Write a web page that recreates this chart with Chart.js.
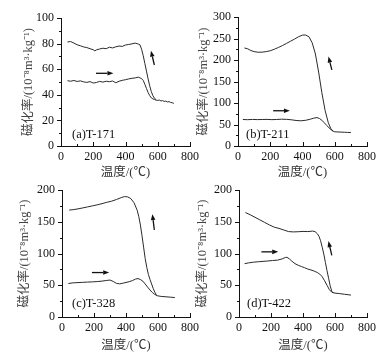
<!DOCTYPE html>
<html>
<head>
<meta charset="utf-8">
<script src="https://cdn.jsdelivr.net/npm/chart.js@4"></script>
<style>
html, body { margin: 0; padding: 0; background: #fff; }
#wrap { position: relative; width: 392px; height: 363px; overflow: hidden; }
.panel { position: absolute; }
</style>
</head>
<body>
<div id="wrap">
  <div class="panel" style="left:0;top:0"><canvas id="chartA" width="200" height="182"></canvas></div>
  <div class="panel" style="left:180px;top:0"><canvas id="chartB" width="212" height="182"></canvas></div>
  <div class="panel" style="left:0;top:175px"><canvas id="chartC" width="200" height="188"></canvas></div>
  <div class="panel" style="left:180px;top:175px"><canvas id="chartD" width="212" height="188"></canvas></div>
</div>
<script>
// (a) T-171
const tempA_heat = [40,60,80,100,120,140,160,180,200,220,240,260,280,300,320,340,360,380,400,420,440,460,480,500,
                    510,520,530,540,550,560,570,580,590,600,610,620,630,640,650,660,670,680,690,700];
const chiA_heat  = [51.0,50.6,51.2,50.4,50.9,50.1,49.7,50.3,49.2,49.6,50.5,49.9,50.6,50.2,50.8,49.4,50.6,51.3,51.8,52.4,52.9,53.2,53.8,52.6,
                    51.2,48.2,45.0,41.8,39.4,37.6,36.8,36.3,35.8,35.6,35.9,35.2,35.5,34.8,35.1,34.4,34.7,34.0,33.8,33.3];
const tempA_cool = [40,60,80,100,120,140,160,180,200,210,220,240,260,280,300,320,340,360,380,400,420,440,460,480,
                    490,500,510,520,530,540,550,560,570,580,590];
const chiA_cool  = [81.3,81.6,80.4,79.1,78.3,77.4,76.9,76.0,75.2,74.3,75.1,75.8,76.4,76.0,77.2,76.6,77.5,78.1,77.8,78.9,79.3,79.8,80.4,79.6,
                    79.0,75.5,70.5,64.5,58.5,52.5,47.0,42.5,39.3,37.2,36.2];

// (b) T-211
const tempB_heat = [30,60,90,120,150,180,210,240,270,300,330,360,390,420,450,470,490,505,520,535,550,565,580,590,600,620,640,660,680,700];
const chiB_heat  = [61.6,61.2,61.8,61.4,61.6,61.9,61.3,61.7,62.3,62.0,61.0,59.4,58.6,59.8,62.5,64.8,66.0,64.0,60.0,54.0,48.0,42.0,37.0,34.5,33.0,32.6,32.3,32.0,31.6,31.3];
const tempB_cool = [40,60,80,100,125,150,175,200,225,250,275,300,325,350,375,400,420,440,460,480,500,520,540,560,575,590];
const chiB_cool  = [228,226,222,219.5,218,218.3,219.5,221.5,225,229,233.5,238.5,243.5,248.5,254,258,258,254,240,214,172,124,83,54,41,34];

// (c) T-328
const tempC_heat = [40,70,100,130,160,190,220,250,280,300,320,340,360,380,400,420,440,460,475,490,505,520,535,550,565,580,595,620,650,680,705];
const chiC_heat  = [52.8,53.8,54.2,54.6,55.0,55.3,55.8,56.5,57.6,58.2,56.0,53.0,52.2,53.2,54.4,55.6,57.3,59.8,60.5,59.0,56.5,52.0,47.0,42.5,38.5,35.5,33.5,32.4,31.8,31.2,30.6];
const tempC_cool = [45,70,100,130,160,190,220,250,280,310,340,370,390,410,430,450,470,480,490,500,510,520,530,540,550,560,570,580,590];
const chiC_cool  = [168.4,169,170.3,171.8,173.4,175,176.6,178.5,180.6,182.4,185,188,189.6,189.2,186.5,180,168,158,145,128,110,92,78,67,59,52,45,39,35];

// (d) T-422
const tempD_heat = [35,60,90,120,150,180,210,240,270,290,300,315,330,350,370,390,410,430,450,470,490,505,520,535,550,565,580,600,630,660,700];
const chiD_heat  = [84,85.2,86.3,87,87.6,88.2,89,89.5,91.5,93.8,94,91.5,88,84,81.5,79.5,77.6,75.5,74,72.3,70,67.5,63.5,57,50,43,39,37.6,36.8,35.8,34.5];
const tempD_cool = [40,70,100,130,160,190,220,250,280,310,340,370,400,430,460,475,490,500,510,520,530,540,550,560,570,580,590];
const chiD_cool  = [164.5,161,157,153,149,145,141.5,139.5,137,134.5,134,134.3,134.8,134.5,135.3,134.5,131,127,120,110,99,86,73,61,49,40.5,37.5];

// y axis ranges / steps
const yMaxes = [100, 300, 200, 200];
const ySteps = [20, 50, 50, 50];
const sampleNames = ['(a)T-171', '(b)T-211', '(c)T-328', '(d)T-422'];

// heating / cooling direction arrows, in data units [temp, chi]
const arrowsA = [[[217, 56.8], [325, 56.8]], [[579, 63.3], [558, 74.5]]];
const arrowsB = [[[218, 82], [322, 82]], [[582, 177], [561, 208]]];
const arrowsC = [[[187, 70], [295, 70]], [[577, 137], [565, 162]]];
const arrowsD = [[[140, 102.6], [245, 102.6]], [[580, 97], [559, 119.5]]];

const SERIF = "'Liberation Serif', 'DejaVu Serif', serif";
const TITLE_FONT = "'Liberation Serif', 'Noto Sans CJK SC', serif";
const INK = '#111';
const LINE = '#2a2a2a';

function toPoints(xs, ys) {
    return xs.map((t, i) => ({ x: t, y: ys[i] }));
}

// small tick marks: y outward, x inward, with minor ticks between
const axisTicks = {
    id: 'axisTicks',
    afterDraw(chart) {
        const { ctx, chartArea } = chart;
        const x = chart.scales.x, y = chart.scales.y;
        const ys = chart.options.scales.y.ticks.stepSize;
        const xs = chart.options.scales.x.ticks.stepSize;
        ctx.save();
        ctx.strokeStyle = INK;
        ctx.lineWidth = 1;
        for (let k = 0; k * ys / 2 <= y.max + 1e-6; k++) {
            const py = Math.round(y.getPixelForValue(k * ys / 2)) + 0.5;
            const len = k % 2 === 0 ? 4 : 2;
            ctx.beginPath();
            ctx.moveTo(chartArea.left - len, py);
            ctx.lineTo(chartArea.left, py);
            ctx.stroke();
        }
        for (let k = 0; k * xs / 2 <= x.max + 1e-6; k++) {
            const px = Math.round(x.getPixelForValue(k * xs / 2)) + 0.5;
            const len = k % 2 === 0 ? 4 : 2;
            ctx.beginPath();
            ctx.moveTo(px, chartArea.bottom);
            ctx.lineTo(px, chartArea.bottom - len);
            ctx.stroke();
        }
        ctx.restore();
    }
};

// arrows and sample name inside the plot
function marks(arrows, name, labelDx, labelDy) {
    return {
        id: 'marks',
        afterDatasetsDraw(chart) {
            const { ctx, chartArea } = chart;
            const x = chart.scales.x, y = chart.scales.y;
            ctx.save();
            ctx.strokeStyle = INK;
            ctx.fillStyle = INK;
            ctx.lineWidth = 1.3;
            arrows.forEach(a => {
                const x0 = x.getPixelForValue(a[0][0]), y0 = y.getPixelForValue(a[0][1]);
                const x1 = x.getPixelForValue(a[1][0]), y1 = y.getPixelForValue(a[1][1]);
                const ang = Math.atan2(y1 - y0, x1 - x0);
                const hl = 6, hw = 2.3;
                const bx = x1 - hl * Math.cos(ang), by = y1 - hl * Math.sin(ang);
                ctx.beginPath();
                ctx.moveTo(x0, y0);
                ctx.lineTo(bx, by);
                ctx.stroke();
                ctx.beginPath();
                ctx.moveTo(x1, y1);
                ctx.lineTo(bx + hw * Math.sin(ang), by - hw * Math.cos(ang));
                ctx.lineTo(bx - hw * Math.sin(ang), by + hw * Math.cos(ang));
                ctx.closePath();
                ctx.fill();
            });
            ctx.font = '12.5px ' + SERIF;
            ctx.textAlign = 'left';
            ctx.textBaseline = 'middle';
            ctx.fillText(name, chartArea.left + labelDx, chartArea.bottom - labelDy);
            ctx.restore();
        }
    };
}

function createPanel(id, heatT, heatV, coolT, coolV, i, arrows, lay) {
    const ctx = document.getElementById(id).getContext('2d');
    const config = {
        type: 'line',
        data: {
            datasets: [
                { label: 'heating', data: toPoints(heatT, heatV) },
                { label: 'cooling', data: toPoints(coolT, coolV) }
            ]
        },
        options: {
            responsive: false,
            animation: false,
            parsing: false,
            elements: {
                line: { borderColor: LINE, borderWidth: 1, tension: 0, fill: false },
                point: { radius: 0 }
            },
            layout: { padding: { top: lay.padTop, right: lay.padRight, left: 0, bottom: 0 } },
            plugins: { legend: { display: false }, tooltip: { enabled: false } },
            scales: {
                x: {
                    type: 'linear',
                    min: 0, max: 800,
                    grid: { display: false, drawTicks: false, tickLength: 0 },
                    border: { display: true, color: INK, width: 1 },
                    ticks: { stepSize: 200, padding: lay.xTickPad, color: INK, font: { family: SERIF, size: 12 } },
                    title: {
                        display: true, text: '温度/(℃)', color: '#333',
                        font: { family: TITLE_FONT, size: 12.5 },
                        padding: { top: 0, bottom: lay.xTitlePad }
                    },
                    afterFit(scale) {
                        scale.height = lay.xHeight;
                        scale.paddingLeft = 0; scale.paddingRight = 0;
                    }
                },
                y: {
                    min: 0, max: yMaxes[i],
                    grid: { display: false, drawTicks: false, tickLength: 0 },
                    border: { display: true, color: INK, width: 1 },
                    ticks: { stepSize: ySteps[i], padding: 7, color: INK, font: { family: SERIF, size: 12 } },
                    title: {
                        display: true, text: '磁化率/(10⁻⁸m³·kg⁻¹)', color: '#444',
                        font: { family: TITLE_FONT, size: 12.5 },
                        padding: { top: lay.yTitlePad, bottom: 0 }
                    },
                    afterFit(scale) {
                        scale.width = lay.yWidth;
                        scale.paddingTop = 0; scale.paddingBottom = 0;
                    }
                }
            }
        },
        plugins: [axisTicks, marks(arrows, sampleNames[i], lay.labelDx, lay.labelDy)]
    };
    new Chart(ctx, config);
}

createPanel('chartA', tempA_heat, chiA_heat, tempA_cool, chiA_cool, 0, arrowsA,
    { padTop: 18, padRight: 10, yWidth: 61, xHeight: 36, xTickPad: 4, xTitlePad: 2, yTitlePad: 21, labelDx: 11, labelDy: 11 });
createPanel('chartB', tempB_heat, chiB_heat, tempB_cool, chiB_cool, 1, arrowsB,
    { padTop: 17, padRight: 25, yWidth: 58, xHeight: 36, xTickPad: 4, xTitlePad: 2, yTitlePad: 16, labelDx: 8, labelDy: 11 });
createPanel('chartC', tempC_heat, chiC_heat, tempC_cool, chiC_cool, 2, arrowsC,
    { padTop: 15, padRight: 10, yWidth: 62, xHeight: 46, xTickPad: 4, xTitlePad: 10, yTitlePad: 17, labelDx: 10, labelDy: 13 });
createPanel('chartD', tempD_heat, chiD_heat, tempD_cool, chiD_cool, 3, arrowsD,
    { padTop: 15, padRight: 25, yWidth: 59, xHeight: 46, xTickPad: 4, xTitlePad: 10, yTitlePad: 15, labelDx: 8, labelDy: 13 });
</script>
</body>
</html>
